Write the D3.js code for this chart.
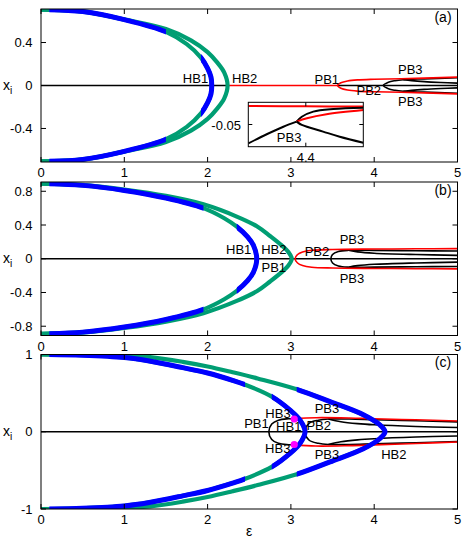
<!DOCTYPE html>
<html><head><meta charset="utf-8">
<script src="https://cdn.jsdelivr.net/npm/d3@7"></script>
<style>body{margin:0;background:#fff}text{font-family:"Liberation Sans",Arial,sans-serif;fill:#000}</style>
</head><body><svg id="chart" width="471" height="540"></svg>
<script>
// ---------- DATA ----------
const xTicks=[0,1,2,3,4,5];
const xTickLabels=["0","1","2","3","4","5"];
const aYTicks=[-0.4,0,0.4], aYLabels=["-0.4","0","0.4"];
const bYTicks=[-0.8,-0.4,0,0.4,0.8], bYLabels=["-0.8","-0.4","0","0.4","0.8"];
const cYTicks=[-1,0,1], cYLabels=["-1","0","1"];

// Panel (a)
const aOuter=[[0,0.707],[0.5,0.69],[1,0.615],[1.5,0.525],[1.8,0.42],[2,0.31],[2.12,0.21],[2.2,0.12],[2.24,0],[2.2,-0.12],[2.12,-0.21],[2,-0.31],[1.8,-0.42],[1.5,-0.525],[1,-0.615],[0.5,-0.69],[0,-0.707]];
const aInner=[[0,0.707],[0.5,0.688],[1,0.613],[1.5,0.5],[1.75,0.385],[1.92,0.26],[2,0.16],[2.04,0.08],[2.05,0],[2.04,-0.08],[2,-0.16],[1.92,-0.26],[1.75,-0.385],[1.5,-0.5],[1,-0.613],[0.5,-0.688],[0,-0.707]];
const aInnerStable=[[0.1,1.5],[1.92,2.3]];
const aZeroBlack1=[[0,0],[2.24,0]], aZeroRed=[[2.24,0],[3.56,0]], aZeroBlack2=[[3.56,0],[5,0]];
const aRedLoop=[[5,0.078],[4.5,0.066],[4,0.058],[3.8,0.052],[3.68,0.042],[3.6,0.025],[3.56,0],[3.6,-0.025],[3.68,-0.042],[3.8,-0.052],[4,-0.058],[4.5,-0.066],[5,-0.078]];
const aBlackLoop=[[5,0.072],[4.6,0.062],[4.35,0.054],[4.25,0.045],[4.17,0.03],[4.11,0],[4.17,-0.03],[4.25,-0.045],[4.35,-0.054],[4.6,-0.062],[5,-0.072]];
const aBlackInnerUp=[[4.35,0.054],[4.45,0.045],[4.6,0.036],[4.8,0.028],[5,0.022]];
const aBlackInnerLo=[[4.35,-0.054],[4.45,-0.045],[4.6,-0.036],[4.8,-0.028],[5,-0.022]];
const aLabels=[["HB1",1.855,0.019],["HB2",2.445,0.019],["PB1",3.431,0.014],["PB2",3.935,-0.088],["PB3",4.433,0.107],["PB3",4.433,-0.191]];
// Inset of (a)
const insetXTicks=[4.4], insetXLabels=["4.4"], insetYTicks=[-0.05], insetYLabels=["-0.05"];
const insetRedTop=[[4.3,-0.0417],[4.4,-0.0418],[4.5,-0.0419]];
const insetBlackIn=[[4.3,-0.0585],[4.332,-0.0544],[4.361,-0.051],[4.384,-0.0487]];
const insetBlackUp=[[4.384,-0.0487],[4.393,-0.0465],[4.413,-0.0442],[4.448,-0.043],[4.5,-0.0424]];
const insetRedUp=[[4.384,-0.0487],[4.402,-0.0472],[4.436,-0.0454],[4.5,-0.0435]];
const insetBlackLo=[[4.384,-0.0487],[4.393,-0.0502],[4.43,-0.0532],[4.459,-0.0555],[4.5,-0.0582]];
const insetLabels=[["PB3",4.371,-0.0577]];

// Panel (b)
const bOuter=[[0,0.89],[0.5,0.875],[1,0.82],[1.5,0.745],[1.95,0.645],[2.35,0.5],[2.6,0.38],[2.75,0.27],[2.9,0.15],[2.97,0.08],[3.01,0],[2.97,-0.08],[2.9,-0.15],[2.75,-0.27],[2.6,-0.38],[2.35,-0.5],[1.95,-0.645],[1.5,-0.745],[1,-0.82],[0.5,-0.875],[0,-0.89]];
const bInner=[[0,0.89],[0.5,0.87],[1,0.81],[1.5,0.72],[1.95,0.6],[2.2,0.48],[2.35,0.38],[2.48,0.26],[2.55,0.16],[2.59,0],[2.55,-0.16],[2.48,-0.26],[2.35,-0.38],[2.2,-0.48],[1.95,-0.6],[1.5,-0.72],[1,-0.81],[0.5,-0.87],[0,-0.89]];
const bInnerStable=[[0.1,1.95],[2.35,2.8]];
const bZeroBlack=[[0,0],[5,0]];
const bRedLoop=[[5,0.12],[4.5,0.118],[4,0.115],[3.5,0.11],[3.25,0.1],[3.14,0.08],[3.08,0.05],[3.05,0],[3.08,-0.05],[3.14,-0.08],[3.25,-0.1],[3.5,-0.11],[4,-0.115],[4.5,-0.118],[5,-0.12]];
const bBlackLoop=[[5,0.092],[4.5,0.095],[4,0.099],[3.69,0.1],[3.57,0.085],[3.5,0.05],[3.48,0],[3.5,-0.05],[3.57,-0.085],[3.69,-0.1],[4,-0.099],[4.5,-0.095],[5,-0.092]];
const bBlackInnerUp=[[3.69,0.1],[3.8,0.082],[4,0.066],[4.5,0.05],[5,0.04]];
const bBlackInnerLo=[[3.69,-0.1],[3.8,-0.082],[4,-0.066],[4.5,-0.05],[5,-0.04]];
const bLabels=[["HB1",2.373,0.056],["HB2",2.795,0.056],["PB1",2.795,-0.154],["PB2",3.313,0.033],["PB3",3.733,0.175],["PB3",3.733,-0.291]];

// Panel (c)
const cOuter=[[0,1],[0.5,0.997],[1,0.985],[1.31,0.966],[1.7,0.905],[2,0.845],[2.3,0.77],[2.6,0.69],[3.07,0.55],[3.47,0.39],[3.87,0.22],[4.07,0.087],[4.13,0],[4.07,-0.087],[3.87,-0.22],[3.47,-0.39],[3.07,-0.55],[2.6,-0.69],[2.3,-0.77],[2,-0.845],[1.7,-0.905],[1.31,-0.966],[1,-0.985],[0.5,-0.997],[0,-1]];
const cOuterStable=[[3.07,4.3]];
const cInner=[[0,1],[0.5,0.99],[1,0.96],[1.3,0.915],[1.7,0.83],[2,0.76],[2.3,0.665],[2.45,0.61],[2.77,0.455],[2.99,0.28],[3.11,0.15],[3.17,0],[3.11,-0.15],[2.99,-0.28],[2.77,-0.455],[2.45,-0.61],[2.3,-0.665],[2,-0.76],[1.7,-0.83],[1.3,-0.915],[1,-0.96],[0.5,-0.99],[0,-1]];
const cInnerStable=[[0.1,2.45],[2.77,3.3]];
const cZeroBlack=[[0,0],[5,0]];
const cBlackLoop1=[[3.04,0.165],[2.95,0.167],[2.85,0.15],[2.77,0.1],[2.735,0],[2.77,-0.1],[2.85,-0.15],[2.95,-0.167],[3.04,-0.165]];
const cRedUp=[[3.04,0.17],[3.3,0.182],[3.7,0.178],[4,0.168],[4.5,0.155],[5,0.14]];
const cRedLo=[[3.04,-0.17],[3.3,-0.185],[3.7,-0.18],[4,-0.17],[4.5,-0.152],[5,-0.132]];
const cBlackLoop2=[[5,0.128],[4.5,0.142],[4,0.156],[3.7,0.165],[3.45,0.165],[3.33,0.15],[3.22,0.11],[3.17,0],[3.22,-0.11],[3.33,-0.15],[3.45,-0.165],[3.7,-0.165],[4,-0.156],[4.5,-0.142],[5,-0.128]];
const cBlackInnerUp=[[3.45,0.165],[3.6,0.13],[3.8,0.105],[4,0.09],[4.5,0.068],[5,0.055]];
const cBlackInnerLo=[[3.45,-0.165],[3.6,-0.13],[3.8,-0.105],[4,-0.09],[4.5,-0.068],[5,-0.055]];
const cHB3=[[3.04,0.165],[3.04,-0.165]];
const cLabels=[["HB3",2.845,0.178],["PB3",3.433,0.243],["PB1",2.587,0.049],["HB1",2.974,0.016],["PB2",3.334,0.023],["HB3",2.842,-0.275],["PB3",3.433,-0.353],["HB2",4.235,-0.353]];

// ---------- DRAWING ----------
const GREEN="#009e73", BLUE="#0000ff", RED="#ff0000", BLACK="#000", MAG="#ff00ff";
const svg=d3.select("#chart");
const defs=svg.append("defs");
const x=d3.scaleLinear().domain([0,5]).range([41,457.5]);
const FS=13;
let clipN=0;
function mkLine(ys){return d3.line().x(d=>x(d[0])).y(d=>ys(d[1])).curve(d3.curveCatmullRom.alpha(0.5));}

function panel(cfg){
  const y=d3.scaleLinear().domain(cfg.ydom).range([cfg.bottom,cfg.top]);
  const L=mkLine(y);
  const cid="clip"+(clipN++);
  defs.append("clipPath").attr("id",cid).append("rect")
    .attr("x",x(0)).attr("y",cfg.top).attr("width",x(5)-x(0)).attr("height",cfg.bottom-cfg.top);
  const g=svg.append("g").attr("clip-path",`url(#${cid})`);
  // thin lines
  cfg.thin.forEach(([d,col])=>{
    g.append("path").attr("d",L(d)).attr("fill","none").attr("stroke",col).attr("stroke-width",1.6);
  });
  // thick curves
  cfg.thick.forEach(([d,stable])=>{
    g.append("path").attr("d",L(d)).attr("fill","none").attr("stroke",GREEN).attr("stroke-width",4.2).attr("stroke-linejoin","round");
    if(stable){
      const sid="clip"+(clipN++);
      const cp=defs.append("clipPath").attr("id",sid);
      stable.forEach(([lo,hi])=>cp.append("rect").attr("x",x(lo)).attr("y",cfg.top).attr("width",x(hi)-x(lo)).attr("height",cfg.bottom-cfg.top));
      g.append("g").attr("clip-path",`url(#${sid})`).append("path").attr("d",L(d)).attr("fill","none")
        .attr("stroke",BLUE).attr("stroke-width",5).attr("stroke-linejoin","round");
    }
  });
  (cfg.dots||[]).forEach(p=>g.append("circle").attr("cx",x(p[0])).attr("cy",y(p[1])).attr("r",3.6).attr("fill",MAG));
  // labels
  cfg.labels.forEach(([t,e,v])=>svg.append("text").attr("x",x(e)).attr("y",y(v)).attr("text-anchor","middle").attr("font-size",FS).text(t));
  // frame
  svg.append("rect").attr("x",x(0)).attr("y",cfg.top).attr("width",x(5)-x(0)).attr("height",cfg.bottom-cfg.top)
    .attr("fill","none").attr("stroke","#000").attr("stroke-width",1);
  const T=5;
  xTicks.forEach((t,i)=>{
    svg.append("line").attr("x1",x(t)).attr("x2",x(t)).attr("y1",cfg.bottom).attr("y2",cfg.bottom-T).attr("stroke","#000");
    svg.append("line").attr("x1",x(t)).attr("x2",x(t)).attr("y1",cfg.top).attr("y2",cfg.top+T).attr("stroke","#000");
    svg.append("text").attr("x",x(t)).attr("y",cfg.bottom+15).attr("text-anchor","middle").attr("font-size",FS).text(xTickLabels[i]);
  });
  cfg.yTicks.forEach((t,i)=>{
    svg.append("line").attr("x1",x(0)).attr("x2",x(0)+T).attr("y1",y(t)).attr("y2",y(t)).attr("stroke","#000");
    svg.append("line").attr("x1",x(5)).attr("x2",x(5)-T).attr("y1",y(t)).attr("y2",y(t)).attr("stroke","#000");
    svg.append("text").attr("x",32.5).attr("y",y(t)).attr("dy","0.36em").attr("text-anchor","end").attr("font-size",FS).text(cfg.yLabels[i]);
  });
  // y label x_i
  const yl=svg.append("text").attr("x",3).attr("y",y(0)+4).attr("font-size",14);
  yl.append("tspan").text("x");
  yl.append("tspan").attr("font-size",10).attr("dy",4).text("i");
  svg.append("text").attr("x",443).attr("y",cfg.top+12.5).attr("text-anchor","middle").attr("font-size",14).text(cfg.tag);
  return y;
}

panel({top:9,bottom:162,ydom:[-0.712,0.712],yTicks:aYTicks,yLabels:aYLabels,tag:"(a)",
  thin:[[aZeroBlack1,BLACK],[aZeroBlack2,BLACK],[aZeroRed,RED],[aBlackLoop,BLACK],[aBlackInnerUp,BLACK],[aBlackInnerLo,BLACK],[aRedLoop,RED]],
  thick:[[aOuter,null],[aInner,aInnerStable]],labels:aLabels});

panel({top:182,bottom:335.5,ydom:[-0.91,0.91],yTicks:bYTicks,yLabels:bYLabels,tag:"(b)",
  thin:[[bZeroBlack,BLACK],[bBlackLoop,BLACK],[bBlackInnerUp,BLACK],[bBlackInnerLo,BLACK],[bRedLoop,RED]],
  thick:[[bOuter,null],[bInner,bInnerStable]],labels:bLabels});

panel({top:354.5,bottom:509,ydom:[-1,1],yTicks:cYTicks,yLabels:cYLabels,tag:"(c)",
  thin:[[cZeroBlack,BLACK],[cBlackLoop1,BLACK],[cBlackLoop2,BLACK],[cBlackInnerUp,BLACK],[cBlackInnerLo,BLACK],[cRedUp,RED],[cRedLo,RED]],
  thick:[[cOuter,cOuterStable],[cInner,cInnerStable]],labels:cLabels,dots:cHB3});

// inset in (a)
(function(){
  const box={l:248.3,r:363.3,t:102.3,b:146.7};
  const ix=d3.scaleLinear().domain([4.3,4.5]).range([box.l,box.r]);
  const iy=d3.scaleLinear().domain([-0.06,-0.04]).range([box.b,box.t]);
  const L=d3.line().x(d=>ix(d[0])).y(d=>iy(d[1])).curve(d3.curveCatmullRom.alpha(0.5));
  svg.append("rect").attr("x",box.l).attr("y",box.t).attr("width",box.r-box.l).attr("height",box.b-box.t).attr("fill","#fff");
  defs.append("clipPath").attr("id","insetclip").append("rect").attr("x",box.l).attr("y",box.t).attr("width",box.r-box.l).attr("height",box.b-box.t);
  const g=svg.append("g").attr("clip-path","url(#insetclip)");
  [[insetRedTop,RED],[insetBlackIn,BLACK],[insetBlackUp,BLACK],[insetRedUp,RED],[insetBlackLo,BLACK]].forEach(([d,c])=>
    g.append("path").attr("d",L(d)).attr("fill","none").attr("stroke",c).attr("stroke-width",2));
  svg.append("rect").attr("x",box.l).attr("y",box.t).attr("width",box.r-box.l).attr("height",box.b-box.t).attr("fill","none").attr("stroke","#000");
  insetXTicks.forEach((t,i)=>{
    svg.append("line").attr("x1",ix(t)).attr("x2",ix(t)).attr("y1",box.b).attr("y2",box.b-4).attr("stroke","#000");
    svg.append("line").attr("x1",ix(t)).attr("x2",ix(t)).attr("y1",box.t).attr("y2",box.t+4).attr("stroke","#000");
    svg.append("text").attr("x",ix(t)).attr("y",162).attr("text-anchor","middle").attr("font-size",FS).text(insetXLabels[i]);
  });
  insetYTicks.forEach((t,i)=>{
    svg.append("line").attr("x1",box.l).attr("x2",box.l+4).attr("y1",iy(t)).attr("y2",iy(t)).attr("stroke","#000");
    svg.append("line").attr("x1",box.r).attr("x2",box.r-4).attr("y1",iy(t)).attr("y2",iy(t)).attr("stroke","#000");
    svg.append("text").attr("x",241).attr("y",iy(t)+5).attr("text-anchor","end").attr("font-size",FS).text(insetYLabels[i]);
  });
  insetLabels.forEach(([t,e,v])=>svg.append("text").attr("x",ix(e)).attr("y",iy(v)).attr("text-anchor","middle").attr("font-size",FS).text(t));
})();

svg.append("text").attr("x",249).attr("y",536).attr("text-anchor","middle").attr("font-size",14).text("ε");
</script></body></html>
